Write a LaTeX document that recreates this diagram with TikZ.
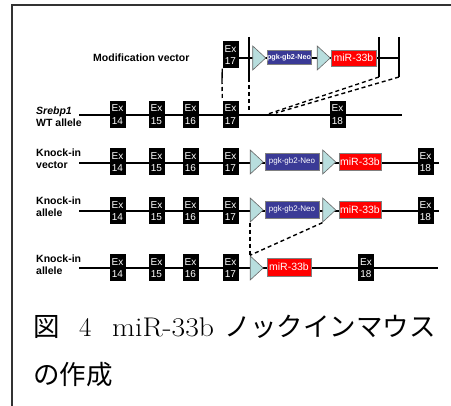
\documentclass[tikz,border=0pt]{standalone}
\usepackage{fontspec}
\newfontfamily\arial{Liberation Sans}
\newfontfamily\cjk{Noto Sans CJK JP}
\usetikzlibrary{shapes.geometric}
\definecolor{neoblue}{RGB}{58,58,150}
\definecolor{trifill}{RGB}{184,222,222}
\definecolor{framecol}{RGB}{50,50,50}
\begin{document}
\begin{tikzpicture}[x=1pt,y=-1pt,
 exon/.style={fill=black, text=white, inner sep=0pt, minimum width=16pt, minimum height=27pt, align=center, font=\arial\fontsize{10}{12.5}\selectfont},
 tri/.style={isosceles triangle, isosceles triangle stretches, minimum height=13pt, minimum width=24pt, inner sep=0pt, fill=trifill, draw=gray!80!black, line width=0.6pt},
 neo/.style={fill=neoblue, draw=gray, text=white, inner sep=0pt, minimum height=17pt, font=\arial\fontsize{8}{9}\selectfont},
 mir/.style={fill=red, draw=gray, text=white, inner sep=0pt, minimum height=17pt, font=\arial\fontsize{10.5}{12}\selectfont},
 lbl/.style={anchor=west, align=left, inner sep=0pt, font=\arial\bfseries\fontsize{10.5}{12.2}\selectfont},
 gline/.style={line width=1.4pt},
 dline/.style={line width=1.4pt, dash pattern=on 4pt off 3pt},
 cjkcap/.style={anchor=base west, inner sep=0pt, font=\cjk\fontsize{26.5}{30}\selectfont},
 latcap/.style={anchor=base west, inner sep=0pt, font=\fontsize{27}{30}\selectfont},
]
\useasboundingbox (0,0) rectangle (451,406);
\draw[line width=2pt, framecol] (12,406) -- (12,5) -- (451,5);

% ---------- Row 1: modification vector ----------
\coordinate (m0) at (239,58);
\coordinate (m1) at (399,58);
\draw[gline] (m0) -- (m1);
\coordinate (mbLt) at (249,37); \coordinate (mbLb) at (249,78); \coordinate (mbLd) at (249,112);
\coordinate (mbAt) at (379,37); \coordinate (mbAb) at (379,77);
\coordinate (mbBt) at (399,37); \coordinate (mbBb) at (399,77);
\draw[gline] (mbLt) -- (mbLb);
\draw[dline] (mbLb) -- (mbLd);
\draw[gline] (mbAt) -- (mbAb);
\draw[gline] (mbBt) -- (mbBb);
\coordinate (wA) at (268,114);
\coordinate (wB) at (276,113);
\draw[dline] (mbAb) -- (wA);
\draw[dline] (mbBb) -- (wB);
\node[lbl] (mlab) at (93,58) {Modification vector};
\node[exon] (m17) at (230.5,55) {Ex\\17};
\node[tri] (mt1) at (258,58) {};
\node[neo, minimum width=44pt, minimum height=14pt, font=\arial\bfseries\fontsize{7.2}{8}\selectfont] (mneo) at (289,57.5) {pgk-gb2-Neo};
\node[tri] (mt2) at (322.5,58) {};
\node[mir, minimum width=45pt, minimum height=16pt] (mmir) at (353.5,58) {miR-33b};

% ---------- Row 2: WT allele ----------
\coordinate (w0) at (79,115);
\coordinate (w1) at (402,115);
\draw[gline] (w0) -- (w1);
\node[lbl] (wlab) at (36,117) {\textit{Srebp1}\\WT allele};
\node[exon] (w14) at (117.5,114.5) {Ex\\14};
\node[exon] (w15) at (156.5,114.5) {Ex\\15};
\node[exon] (w16) at (190.5,114.5) {Ex\\16};
\node[exon] (w17) at (230.5,114.5) {Ex\\17};
\node[exon] (w18) at (337.5,114.5) {Ex\\18};
\coordinate (mc) at (222,80);
\draw[gline] (m17.south west) -- (mc);
\draw[dline] (mc) -- (w17.north west);

% ---------- Row 3: knock-in vector ----------
\coordinate (v0) at (79,163);
\coordinate (v1) at (439,163);
\draw[gline] (v0) -- (v1);
\node[lbl] (vlab) at (36,159) {Knock-in\\vector};
\node[exon] (v14) at (117.5,162) {Ex\\14};
\node[exon] (v15) at (156.5,162) {Ex\\15};
\node[exon] (v16) at (190.5,162) {Ex\\16};
\node[exon] (v17) at (230.5,162) {Ex\\17};
\node[tri] (vt1) at (255.5,162) {};
\node[neo, minimum width=54pt] (vneo) at (292,161.5) {pgk-gb2-Neo};
\node[tri] (vt2) at (328,162) {};
\node[mir, minimum width=42pt] (vmir) at (360,161.5) {miR-33b};
\node[exon] (v18) at (425.5,162) {Ex\\18};

% ---------- Row 4: knock-in allele ----------
\coordinate (k0) at (79,211);
\coordinate (k1) at (439,211);
\draw[gline] (k0) -- (k1);
\node[lbl] (klab) at (36,207) {Knock-in\\allele};
\node[exon] (k14) at (117.5,211) {Ex\\14};
\node[exon] (k15) at (156.5,211) {Ex\\15};
\node[exon] (k16) at (190.5,211) {Ex\\16};
\node[exon] (k17) at (230.5,211) {Ex\\17};
\node[tri] (kt1) at (255.5,210) {};
\node[neo, minimum width=54pt] (kneo) at (292,209.5) {pgk-gb2-Neo};
\node[tri] (kt2) at (328,210) {};
\node[mir, minimum width=42pt] (kmir) at (360,209.5) {miR-33b};
\node[exon] (k18) at (425.5,211) {Ex\\18};

% ---------- Row 5: knock-in allele (deleted) ----------
\coordinate (d0) at (79,268);
\coordinate (d1) at (438,268);
\draw[gline] (d0) -- (d1);
\node[lbl] (dlab) at (36,264.5) {Knock-in\\allele};
\node[exon] (d14) at (117.5,268) {Ex\\14};
\node[exon] (d15) at (156.5,268) {Ex\\15};
\node[exon] (d16) at (190.5,268) {Ex\\16};
\node[exon] (d17) at (230.5,268) {Ex\\17};
\node[tri] (dt1) at (255.5,268) {};
\node[mir, minimum width=44pt, minimum height=18pt] (dmir) at (289,267) {miR-33b};
\node[exon] (d18) at (366,268) {Ex\\18};

\draw[dline] (kt1.right corner) -- (dt1.left corner);
\draw[dline] (kt2.right corner) -- (dt1.left corner);

% ---------- Caption ----------
\node[cjkcap] (c1) at (33,337) {図};
\node[latcap] (c2) at (79,337) {4};
\node[latcap] (c3) at (112,337) {\scalebox{1.1}[1]{miR-33b}};
\node[cjkcap] (c4) at (224,337) {ノックインマウス};
\node[cjkcap] (c5) at (33,385) {の作成};
\end{tikzpicture}
\end{document}
